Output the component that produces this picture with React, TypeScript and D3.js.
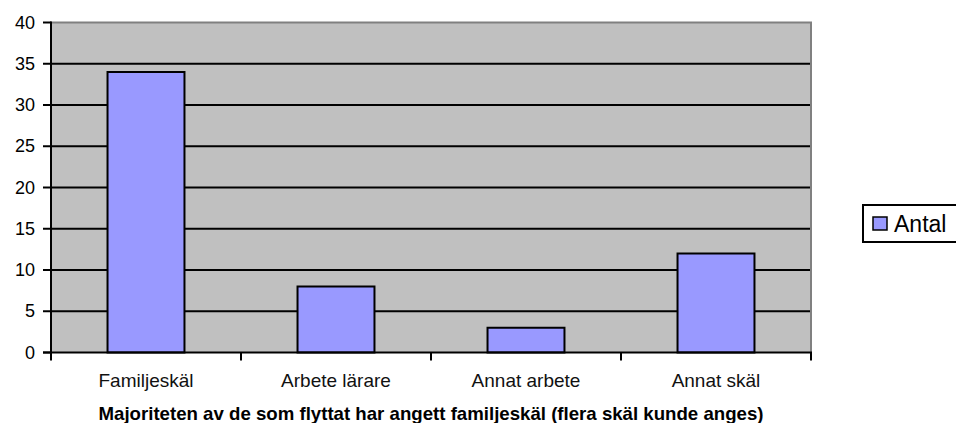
import React, { useEffect, useRef } from "react";
import * as d3 from "d3";

const categories = ["Familjeskäl", "Arbete lärare", "Annat arbete", "Annat skäl"];
const antal = [34, 8, 3, 12];
const yTicks = [0, 5, 10, 15, 20, 25, 30, 35, 40];
const seriesName = "Antal";
const chartTitle = "Majoriteten av de som flyttat har angett familjeskäl (flera skäl kunde anges)";

const App = () => {
    const svgRef = useRef(null);
    const width = 956;
    const height = 423;
    const plot = { left: 51, right: 811, top: 22.5, bottom: 352.5 };

    useEffect(() => {
        const svg = d3.select(svgRef.current);
        svg.selectAll("*").remove();

        const x = d3
            .scaleBand()
            .domain(categories)
            .range([plot.left, plot.right])
            .paddingInner(0.595)
            .paddingOuter(0.2975);

        const y = d3.scaleLinear().domain([0, 40]).range([plot.bottom, plot.top]);

        // plot background
        svg
            .append("rect")
            .attr("x", plot.left)
            .attr("y", plot.top)
            .attr("width", plot.right - plot.left)
            .attr("height", plot.bottom - plot.top)
            .attr("fill", "#c0c0c0");

        // gridlines
        svg
            .selectAll(".grid")
            .data(yTicks.filter((d) => d > 0 && d < 40))
            .enter()
            .append("line")
            .attr("x1", plot.left)
            .attr("x2", plot.right)
            .attr("y1", (d) => y(d))
            .attr("y2", (d) => y(d))
            .attr("stroke", "#000")
            .attr("stroke-width", 2);

        // top + right border (gray)
        svg
            .append("path")
            .attr("d", `M${plot.left},${plot.top}H${plot.right}V${plot.bottom}`)
            .attr("fill", "none")
            .attr("stroke", "#808080")
            .attr("stroke-width", 2);

        // bars
        svg
            .selectAll(".bar")
            .data(antal)
            .enter()
            .append("rect")
            .attr("x", (d, i) => x(categories[i]))
            .attr("y", (d) => y(d))
            .attr("width", x.bandwidth())
            .attr("height", (d) => y(0) - y(d))
            .attr("fill", "#9999ff")
            .attr("stroke", "#000")
            .attr("stroke-width", 2);

        // y axis
        svg
            .append("line")
            .attr("x1", plot.left)
            .attr("x2", plot.left)
            .attr("y1", plot.top - 1)
            .attr("y2", plot.bottom + 1)
            .attr("stroke", "#000")
            .attr("stroke-width", 2);

        svg
            .selectAll(".ytick")
            .data(yTicks)
            .enter()
            .append("line")
            .attr("x1", plot.left - 8)
            .attr("x2", plot.left)
            .attr("y1", (d) => y(d))
            .attr("y2", (d) => y(d))
            .attr("stroke", "#000")
            .attr("stroke-width", 2);

        svg
            .selectAll(".ylabel")
            .data(yTicks)
            .enter()
            .append("text")
            .attr("x", 35)
            .attr("y", (d) => y(d) + 6)
            .attr("text-anchor", "end")
            .style("font-family", "Liberation Sans, Arial, sans-serif")
            .style("font-size", "18px")
            .attr("fill", "#000")
            .text((d) => d);

        // x axis
        svg
            .append("line")
            .attr("x1", plot.left - 8)
            .attr("x2", plot.right + 1)
            .attr("y1", plot.bottom)
            .attr("y2", plot.bottom)
            .attr("stroke", "#000")
            .attr("stroke-width", 2);

        const step = x.step();
        const bounds = categories.map((c) => x(c) - step * x.paddingOuter());
        bounds.push(plot.right);
        svg
            .selectAll(".xtick")
            .data(bounds)
            .enter()
            .append("line")
            .attr("x1", (d) => d)
            .attr("x2", (d) => d)
            .attr("y1", plot.bottom)
            .attr("y2", plot.bottom + 8)
            .attr("stroke", "#000")
            .attr("stroke-width", 2);

        svg
            .selectAll(".xlabel")
            .data(categories)
            .enter()
            .append("text")
            .attr("x", (d) => x(d) + x.bandwidth() / 2)
            .attr("y", 387)
            .attr("text-anchor", "middle")
            .style("font-family", "Liberation Sans, Arial, sans-serif")
            .style("font-size", "19px")
            .attr("fill", "#111")
            .text((d) => d);

        // title
        svg
            .append("text")
            .attr("x", (plot.left + plot.right) / 2)
            .attr("y", 420)
            .attr("text-anchor", "middle")
            .attr("textLength", 665)
            .attr("lengthAdjust", "spacingAndGlyphs")
            .style("font-family", "Liberation Sans, Arial, sans-serif")
            .style("font-size", "19px")
            .style("font-weight", "bold")
            .text(chartTitle);

        // legend
        const legend = svg.append("g").attr("transform", "translate(863,205)");
        legend
            .append("rect")
            .attr("x", 0)
            .attr("y", 0)
            .attr("width", 110)
            .attr("height", 37)
            .attr("fill", "#fff")
            .attr("stroke", "#000")
            .attr("stroke-width", 2);
        legend
            .append("rect")
            .attr("x", 10)
            .attr("y", 12)
            .attr("width", 14)
            .attr("height", 13)
            .attr("fill", "#9999ff")
            .attr("stroke", "#000")
            .attr("stroke-width", 1.5);
        legend
            .append("text")
            .attr("x", 31)
            .attr("y", 27)
            .style("font-family", "Liberation Sans, Arial, sans-serif")
            .style("font-size", "23px")
            .text(seriesName);
    }, []);

    return (
        <svg
            ref={svgRef}
            width={width}
            height={height}
            style={{ position: "absolute", left: 0, top: 0, background: "#fff" }}
        />
    );
};

export default App;
